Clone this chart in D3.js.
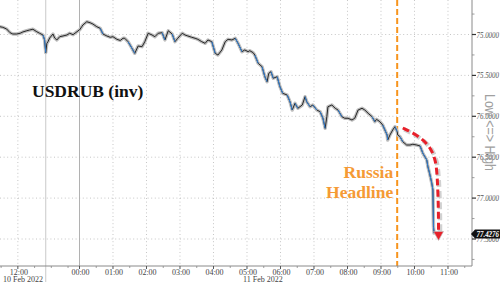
<!DOCTYPE html>
<html><head><meta charset="utf-8">
<script src="https://cdn.jsdelivr.net/npm/d3@7"></script>
<style>body{margin:0;background:#fff}svg{display:block}</style>
</head><body><svg id="c" width="500" height="282"></svg>
<script>
// ---- data ----
const times = [
"2022-02-10 11:28","2022-02-10 11:33","2022-02-10 11:40","2022-02-10 11:46","2022-02-10 11:51","2022-02-10 11:58",
"2022-02-10 12:04","2022-02-10 12:09","2022-02-10 12:16","2022-02-10 12:21","2022-02-10 12:27","2022-02-10 12:34",
"2022-02-10 12:39","2022-02-10 12:45","2022-02-10 12:48","2022-02-10 12:50","2022-02-10 12:52","2022-02-10 12:54",
"2022-02-10 12:57","2022-02-10 13:03","2022-02-10 13:06","2022-02-10 13:10","2022-02-10 13:15","2022-02-10 13:21",
"2022-02-10 13:28","2022-02-10 13:33","2022-02-10 13:39","2022-02-10 13:46","2022-02-10 13:50",
"2022-02-11 00:00","2022-02-11 00:04","2022-02-11 00:06","2022-02-11 00:13","2022-02-11 00:19","2022-02-11 00:24",
"2022-02-11 00:31","2022-02-11 00:37","2022-02-11 00:42","2022-02-11 00:49","2022-02-11 00:55","2022-02-11 01:00",
"2022-02-11 01:07","2022-02-11 01:13","2022-02-11 01:18","2022-02-11 01:21","2022-02-11 01:27","2022-02-11 01:34",
"2022-02-11 01:39","2022-02-11 01:45","2022-02-11 01:52","2022-02-11 01:57","2022-02-11 02:03","2022-02-11 02:10",
"2022-02-11 02:15","2022-02-11 02:21","2022-02-11 02:28","2022-02-11 02:33","2022-02-11 02:39","2022-02-11 02:46",
"2022-02-11 02:51","2022-02-11 02:56","2022-02-11 03:04","2022-02-11 03:09","2022-02-11 03:14","2022-02-11 03:21",
"2022-02-11 03:27","2022-02-11 03:32","2022-02-11 03:39","2022-02-11 03:45","2022-02-11 03:50","2022-02-11 03:57",
"2022-02-11 04:03","2022-02-11 04:08","2022-02-11 04:15","2022-02-11 04:21","2022-02-11 04:26","2022-02-11 04:33",
"2022-02-11 04:39","2022-02-11 04:44","2022-02-11 04:51","2022-02-11 04:56","2022-02-11 05:02","2022-02-11 05:05",
"2022-02-11 05:11","2022-02-11 05:14","2022-02-11 05:20","2022-02-11 05:27","2022-02-11 05:32","2022-02-11 05:36",
"2022-02-11 05:39","2022-02-11 05:43","2022-02-11 05:47","2022-02-11 05:54","2022-02-11 05:59","2022-02-11 06:04",
"2022-02-11 06:12","2022-02-11 06:17","2022-02-11 06:21","2022-02-11 06:26","2022-02-11 06:31","2022-02-11 06:39",
"2022-02-11 06:44","2022-02-11 06:47","2022-02-11 06:53","2022-02-11 06:58","2022-02-11 07:05","2022-02-11 07:11",
"2022-02-11 07:16","2022-02-11 07:20","2022-02-11 07:23","2022-02-11 07:25","2022-02-11 07:32","2022-02-11 07:38",
"2022-02-11 07:43","2022-02-11 07:50","2022-02-11 07:55","2022-02-11 08:01","2022-02-11 08:08","2022-02-11 08:13",
"2022-02-11 08:19","2022-02-11 08:26","2022-02-11 08:31","2022-02-11 08:37","2022-02-11 08:44","2022-02-11 08:49",
"2022-02-11 08:52","2022-02-11 08:58","2022-02-11 09:03","2022-02-11 09:11","2022-02-11 09:12","2022-02-11 09:16",
"2022-02-11 09:21","2022-02-11 09:25","2022-02-11 09:29","2022-02-11 09:30","2022-02-11 09:34","2022-02-11 09:39",
"2022-02-11 09:46","2022-02-11 09:52","2022-02-11 09:57","2022-02-11 10:04","2022-02-11 10:10","2022-02-11 10:15",
"2022-02-11 10:22","2022-02-11 10:24","2022-02-11 10:27","2022-02-11 10:31","2022-02-11 10:33","2022-02-11 10:34",
"2022-02-11 10:35"];
const values = [
74.905,74.912,74.933,74.978,74.994,74.994,
74.985,74.969,74.954,74.945,74.936,74.966,
74.985,75.006,75.067,75.222,75.108,75.088,
75.043,74.994,75.043,75.067,75.027,75.018,
75.006,74.985,75.002,74.966,74.945,
74.945,74.905,74.884,74.844,74.856,74.872,
74.905,74.924,74.994,75.018,75.034,75.027,
75.059,75.073,75.046,75.046,75.088,75.169,
75.230,75.141,75.149,75.088,74.985,75.006,
75.027,74.985,74.978,75.067,74.954,74.994,
75.088,75.046,74.985,75.006,75.018,75.034,
75.046,75.059,75.088,75.108,75.067,75.088,
75.230,75.251,75.189,75.088,75.059,75.067,
75.046,75.108,75.210,75.189,75.210,75.198,
75.222,75.251,75.352,75.394,75.516,75.577,
75.474,75.455,75.535,75.516,75.638,75.719,
75.740,75.822,75.923,75.841,75.902,75.862,
75.760,75.822,75.883,75.862,75.923,75.944,
76.024,76.147,76.005,75.883,75.862,75.902,
75.923,76.005,76.024,76.024,76.045,76.024,
75.923,75.902,75.923,75.963,76.005,76.066,
76.037,76.066,76.106,76.229,76.290,76.229,
76.167,76.127,76.188,76.229,76.249,76.311,
76.351,76.351,76.342,76.351,76.363,76.452,
76.534,76.616,76.697,76.819,76.901,77.350,
77.4276];
const yTicks = [75.0, 75.5, 76.0, 76.5, 77.0, 77.5];
const yTickLabels = ["75.0000","75.5000","76.0000","76.5000","77.0000","77.5000"];
const yMinorTicks = [74.75, 75.25, 75.75, 76.25, 76.75, 77.25, 77.75];
const xTicks = ["2022-02-10 12:00","2022-02-11 00:00","2022-02-11 01:00","2022-02-11 02:00","2022-02-11 03:00",
  "2022-02-11 04:00","2022-02-11 05:00","2022-02-11 06:00","2022-02-11 07:00","2022-02-11 08:00",
  "2022-02-11 09:00","2022-02-11 10:00","2022-02-11 11:00"];
const xTickLabels = ["12:00","00:00","01:00","02:00","03:00","04:00","05:00","06:00","07:00","08:00","09:00","10:00","11:00"];
const xMinorTicks = ["2022-02-10 11:30","2022-02-10 12:30","2022-02-10 13:00","2022-02-10 13:30",
  "2022-02-11 00:30","2022-02-11 01:30","2022-02-11 02:30","2022-02-11 03:30","2022-02-11 04:30","2022-02-11 05:30",
  "2022-02-11 06:30","2022-02-11 07:30","2022-02-11 08:30","2022-02-11 09:30","2022-02-11 10:30","2022-02-11 11:30"];
const dateLabels = ["10 Feb 2022","11 Feb 2022"];
const sessionBreak = "2022-02-10 12:50";
const dayStart = "2022-02-11 00:00";
const headlineTime = "2022-02-11 09:29";
const lastValue = 77.4276;
const arrowTimes = ["2022-02-11 09:39","2022-02-11 09:58","2022-02-11 10:16","2022-02-11 10:29","2022-02-11 10:38","2022-02-11 10:41","2022-02-11 10:43","2022-02-11 10:43"];
const arrowValues = [76.143,76.204,76.290,76.388,76.535,76.740,77.145,77.42];

// ---- scales ----
const parse = d3.timeParse("%Y-%m-%d %H:%M");
const W = 500, H = 282, right = 472, bottom = 266;
const x = d3.scaleTime()
  .domain([parse("2022-02-10 11:28"), parse("2022-02-10 13:50"), parse("2022-02-11 00:00"), parse("2022-02-11 11:43")])
  .range([0, 79.2, 79.5, right]);
const y = d3.scaleLinear().domain([75, 77.5]).range([34.5, 239]);

const svg = d3.select("#c");
svg.append("rect").attr("width", W).attr("height", H).attr("fill", "#fff");

// gridlines
const grid = svg.append("g").attr("stroke", "#b8b8b8").attr("stroke-width", 0.8).attr("stroke-dasharray", "1,2.6");
grid.selectAll("line.h").data(yTicks).join("line")
  .attr("x1", 0).attr("x2", right).attr("y1", d => y(d)).attr("y2", d => y(d));
grid.selectAll("line.v").data(xTicks.filter(t => t !== dayStart)).join("line")
  .attr("x1", d => x(parse(d))).attr("x2", d => x(parse(d))).attr("y1", 0).attr("y2", bottom);

// session separators
svg.append("line").attr("x1", x(parse(sessionBreak)) ).attr("x2", x(parse(sessionBreak)))
  .attr("y1", 0).attr("y2", H).attr("stroke", "#c4c4c4").attr("stroke-width", 0.9);
svg.append("line").attr("x1", x(parse(dayStart))).attr("x2", x(parse(dayStart)))
  .attr("y1", 0).attr("y2", bottom).attr("stroke", "#a8a8a8").attr("stroke-width", 0.9);

// headline line
svg.append("line").attr("x1", x(parse(headlineTime))).attr("x2", x(parse(headlineTime)))
  .attr("y1", 0).attr("y2", bottom).attr("stroke", "#f7941d").attr("stroke-width", 2).attr("stroke-dasharray", "6,3");

// series
const pts = times.map((t, i) => [x(parse(t)), y(values[i])]);
const line = d3.line();
svg.append("path").attr("d", line(pts)).attr("fill", "none").attr("stroke", "#bdbdbd")
  .attr("stroke-width", 3.4).attr("stroke-linejoin", "round").attr("stroke-linecap", "round");
svg.append("path").attr("d", line(pts)).attr("fill", "none").attr("stroke", "#262626")
  .attr("stroke-width", 1).attr("stroke-linejoin", "round");
const segs = [];
for (let i = 1; i < pts.length; i++) if (values[i] - values[i-1] > 0.055) segs.push([pts[i-1], pts[i]]);
svg.append("g").selectAll("path").data(segs).join("path").attr("d", d => line(d))
  .attr("fill", "none").attr("stroke", "#2f7fd6").attr("stroke-width", 1);

// red arrow
const apts = arrowTimes.map((t, i) => [x(parse(t)), y(arrowValues[i])]);
const curve = d3.line().curve(d3.curveBasis);
svg.append("path").attr("d", curve(apts)).attr("transform", "translate(1.5,1.5)")
  .attr("fill", "none").attr("stroke", "#bdbdbd").attr("stroke-width", 4.5).attr("stroke-dasharray", "7,4").attr("opacity", 0.7);
svg.append("path").attr("d", curve(apts)).attr("fill", "none").attr("stroke", "#e8202a")
  .attr("stroke-width", 3).attr("stroke-dasharray", "7,4");
const tip = apts[apts.length - 1];
svg.append("path").attr("d", `M${tip[0]-5},${tip[1]-1}L${tip[0]+5},${tip[1]-1}L${tip[0]},${tip[1]+8}Z`)
  .attr("fill", "#e8202a").attr("stroke", "#bdbdbd").attr("stroke-width", 0.6);

// axes lines
svg.append("line").attr("x1", right).attr("x2", right).attr("y1", 0).attr("y2", bottom).attr("stroke", "#8a8a8a").attr("stroke-width", 1);
svg.append("line").attr("x1", 0).attr("x2", right).attr("y1", bottom).attr("y2", bottom).attr("stroke", "#8a8a8a").attr("stroke-width", 1);

// right axis ticks & labels
const ra = svg.append("g");
ra.selectAll("line.maj").data(yTicks).join("line").attr("x1", right).attr("x2", right + 4)
  .attr("y1", d => y(d)).attr("y2", d => y(d)).attr("stroke", "#333").attr("stroke-width", 1.2);
ra.selectAll("line.min").data(yMinorTicks).join("line").attr("class","min").attr("x1", right).attr("x2", right + 2.5)
  .attr("y1", d => y(d)).attr("y2", d => y(d)).attr("stroke", "#888").attr("stroke-width", 0.8);
ra.selectAll("text").data(yTicks).join("text").attr("x", right + 4.5).attr("y", d => y(d) + 3)
  .text((d, i) => yTickLabels[i]).attr("font-family", "Liberation Serif").attr("font-size", 8.5)
  .attr("font-style", "italic").attr("fill", "#555").attr("textLength", 22.5).attr("lengthAdjust", "spacingAndGlyphs");

// last value label
const ly = y(lastValue) + 1;
svg.append("path").attr("d", `M${right-1},${ly}L${right+3},${ly-4.5}L${W},${ly-4.5}L${W},${ly+4.5}L${right+3},${ly+4.5}Z`)
  .attr("fill", "#111");
svg.append("text").attr("x", right + 4.5).attr("y", ly + 3).text(lastValue.toFixed(4))
  .attr("font-family", "Liberation Serif").attr("font-size", 8.5).attr("font-style", "italic").attr("font-weight", "bold")
  .attr("fill", "#fff").attr("textLength", 22.5).attr("lengthAdjust", "spacingAndGlyphs");

// bottom axis
const ba = svg.append("g");
ba.selectAll("line.maj").data(xTicks).join("line").attr("x1", d => x(parse(d))).attr("x2", d => x(parse(d)))
  .attr("y1", bottom).attr("y2", bottom + 3).attr("stroke", "#555").attr("stroke-width", 1);
ba.selectAll("line.min").data(xMinorTicks).join("line").attr("class","min").attr("x1", d => x(parse(d))).attr("x2", d => x(parse(d)))
  .attr("y1", bottom).attr("y2", bottom + 2).attr("stroke", "#888").attr("stroke-width", 0.8);
ba.selectAll("text").data(xTicks).join("text").attr("x", d => x(parse(d)) + 1).attr("y", bottom + 8.5)
  .attr("text-anchor", "middle").text((d, i) => xTickLabels[i])
  .attr("font-family", "Liberation Serif").attr("font-size", 8).attr("fill", "#444");
svg.append("text").attr("x", 3).attr("y", 281.5).text(dateLabels[0])
  .attr("font-family", "Liberation Serif").attr("font-size", 8).attr("fill", "#444");
svg.append("text").attr("x", 243).attr("y", 281.5).text(dateLabels[1])
  .attr("font-family", "Liberation Serif").attr("font-size", 8).attr("fill", "#444");

// titles / annotations
svg.append("text").attr("x", 32).attr("y", 97).text("USDRUB (inv)")
  .attr("font-family", "Liberation Serif").attr("font-weight", "bold").attr("font-size", 17.5).attr("fill", "#111");
const hx = x(parse(headlineTime)) - 4;
svg.append("text").attr("x", hx).attr("y", 178).attr("text-anchor", "end").text("Russia")
  .attr("font-family", "Liberation Serif").attr("font-weight", "bold").attr("font-size", 17.5).attr("fill", "#f59a35");
svg.append("text").attr("x", hx).attr("y", 198).attr("text-anchor", "end").text("Headline")
  .attr("font-family", "Liberation Serif").attr("font-weight", "bold").attr("font-size", 17.5).attr("fill", "#f59a35");
svg.append("text").attr("transform", "translate(485,94) rotate(90)").text("Low <=> High")
  .attr("font-family", "Liberation Sans").attr("font-size", 14).attr("fill", "#a0a0a0")
  .attr("textLength", 77).attr("lengthAdjust", "spacingAndGlyphs");
</script></body></html>
